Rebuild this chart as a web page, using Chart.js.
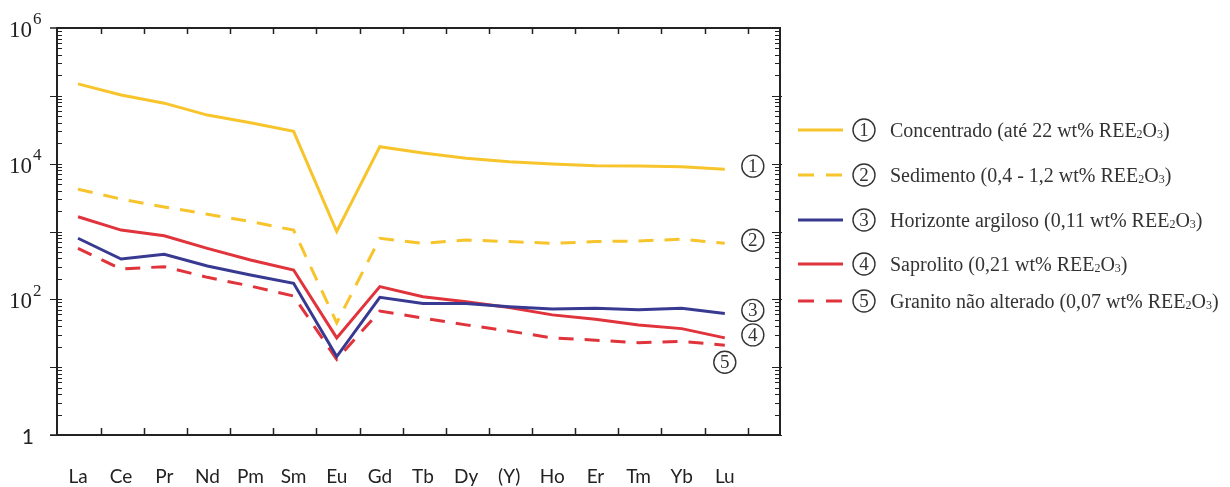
<!DOCTYPE html>
<html>
<head>
<meta charset="utf-8">
<script src="https://cdn.jsdelivr.net/npm/chart.js@4"></script>
<style>
  html, body { margin: 0; padding: 0; background: #fff; }
</style>
</head>
<body>
<canvas id="grafico" width="1230" height="487"></canvas>
<script>
// elementos (eixo x) e valores normalizados (escala log)
const elementos = ['La', 'Ce', 'Pr', 'Nd', 'Pm', 'Sm', 'Eu', 'Gd', 'Tb', 'Dy', '(Y)', 'Ho', 'Er', 'Tm', 'Yb', 'Lu'];
const concentrado = [150000, 103000, 78000, 52000, 40000, 30000, 1000, 17800, 14400, 12000, 10700, 9900, 9350, 9200, 9000, 8300];
const sedimento = [4200, 3000, 2300, 1800, 1400, 1050, 45, 795, 670, 750, 710, 670, 710, 725, 770, 670];
const horizonte = [795, 393, 461, 310, 228, 172, 14.3, 107, 87, 87, 78, 72, 74, 70, 74, 62];
const saprolito = [1650, 1050, 867, 565, 380, 271, 27, 154, 109, 92, 76, 59, 51, 42, 37, 27];
const granito = [565, 280, 303, 211, 157, 112, 13, 67, 53, 42, 34, 27, 25, 23, 24, 21];
const legendas = [
    'Concentrado (até 22 wt% REE2O3)',
    'Sedimento (0,4 - 1,2 wt% REE2O3)',
    'Horizonte argiloso (0,11 wt% REE2O3)',
    'Saprolito (0,21 wt% REE2O3)',
    'Granito não alterado (0,07 wt% REE2O3)'
];
const yExpoentes = [0, 2, 4, 6];

const AMARELO = '#f7c42b';
const AZUL = '#383a92';
const VERMELHO = '#e0333b';
const TRACO = [15, 11];

const serie = (valores) => valores.map((v, i) => ({ x: i, y: v }));

const linha = (valores, cor, tracejado) => ({
    data: serie(valores),
    borderColor: cor,
    backgroundColor: cor,
    borderWidth: 3,
    borderDash: tracejado ? TRACO : [],
    pointRadius: 0,
    tension: 0,
    fill: false
});

const circulo = (ctx, n, cx, cy, r) => {
    ctx.save();
    ctx.setLineDash([]);
    ctx.strokeStyle = '#333';
    ctx.lineWidth = 1.4;
    ctx.beginPath();
    ctx.arc(cx, cy, r, 0, Math.PI * 2);
    ctx.stroke();
    ctx.fillStyle = '#333';
    ctx.font = '19px "Liberation Serif"';
    ctx.textAlign = 'center';
    ctx.textBaseline = 'middle';
    ctx.fillText(String(n), cx, cy + 1);
    ctx.restore();
};

const moldura = {
    id: 'moldura',
    afterDraw(chart) {
        const ctx = chart.ctx;
        const a = chart.chartArea;
        const xs = chart.scales.x;
        const ys = chart.scales.y;
        ctx.save();
        ctx.strokeStyle = '#222';
        ctx.lineWidth = 2;
        ctx.strokeRect(a.left, a.top, a.right - a.left, a.bottom - a.top);

        // marcas eixo x (topo e base, para dentro)
        ctx.lineWidth = 1.5;
        ctx.beginPath();
        for (let i = 0; i < elementos.length; i++) {
            const px = Math.round(xs.getPixelForValue(i + 0.53)) + 0.5;
            ctx.moveTo(px, a.top); ctx.lineTo(px, a.top + 6);
            ctx.moveTo(px, a.bottom); ctx.lineTo(px, a.bottom - 7);
        }
        ctx.moveTo(a.left - 7, a.top); ctx.lineTo(a.left, a.top);
        ctx.moveTo(a.left - 7, a.bottom); ctx.lineTo(a.left, a.bottom);
        ctx.stroke();

        // marcas eixo y logaritmico
        ctx.lineWidth = 1.2;
        ctx.beginPath();
        for (let e = 0; e < 6; e++) {
            for (let m = 1; m < 10; m++) {
                const py = Math.round(ys.getPixelForValue(m * Math.pow(10, e))) + 0.5;
                if (m === 1) {
                    ctx.moveTo(a.left - 7, py); ctx.lineTo(a.left + 5, py);
                    ctx.moveTo(a.right - 8, py); ctx.lineTo(a.right + 2, py);
                } else {
                    ctx.moveTo(a.left, py); ctx.lineTo(a.left + 5, py);
                    ctx.moveTo(a.right, py); ctx.lineTo(a.right - 5, py);
                }
            }
        }
        ctx.stroke();

        // rotulos eixo y
        ctx.fillStyle = '#222';
        yExpoentes.forEach((e) => {
            const py = ys.getPixelForValue(Math.pow(10, e));
            if (e === 0) {
                ctx.font = '21px Lato';
                ctx.textAlign = 'right';
                ctx.textBaseline = 'middle';
                ctx.fillText('1', 34, py + 2);
            } else {
                ctx.font = '23px "Liberation Serif"';
                ctx.textAlign = 'right';
                ctx.textBaseline = 'middle';
                ctx.fillText('10', 32, py + 3);
                ctx.font = '17px "Liberation Serif"';
                ctx.textAlign = 'left';
                ctx.fillText(String(e), 33, py - 8);
            }
        });

        // numeros nas curvas
        const ultimos = chart.data.datasets.map((d) => d.data[d.data.length - 1].y);
        ultimos.forEach((v, k) => {
            const last = elementos.length - 1;
            if (k === 4) {
                circulo(ctx, k + 1, xs.getPixelForValue(last), ys.getPixelForValue(v) + 17, 11);
            } else {
                circulo(ctx, k + 1, xs.getPixelForValue(last + 0.65), ys.getPixelForValue(v) - 3, 11);
            }
        });

        // legenda
        const yLeg = [130, 175, 220, 264, 301];
        chart.data.datasets.forEach((d, k) => {
            const y = yLeg[k];
            ctx.save();
            ctx.strokeStyle = d.borderColor;
            ctx.lineWidth = 3;
            ctx.setLineDash(d.borderDash.length ? [16, 12] : []);
            ctx.beginPath();
            ctx.moveTo(798, y); ctx.lineTo(843, y);
            ctx.stroke();
            ctx.restore();
            circulo(ctx, k + 1, 864, y, 11);

            const partes = legendas[k].split('REE2O3');
            let x = 890;
            ctx.fillStyle = '#333';
            ctx.textAlign = 'left';
            ctx.textBaseline = 'alphabetic';
            const base = y + 7;
            const trechos = [
                [partes[0] + 'REE', 20, 0], ['2', 12, 1], ['O', 20, 0], ['3', 12, 1], [partes[1], 20, 0]
            ];
            trechos.forEach(([t, tam, desc]) => {
                ctx.font = tam + 'px "Liberation Serif"';
                ctx.fillText(t, x, base + desc);
                x += ctx.measureText(t).width;
            });
        });
        ctx.restore();
    }
};

const canvas = document.getElementById('grafico');
const ctx = canvas.getContext('2d');

const config = {
    type: 'line',
    data: {
        datasets: [
            linha(concentrado, AMARELO, false),
            linha(sedimento, AMARELO, true),
            linha(horizonte, AZUL, false),
            linha(saprolito, VERMELHO, false),
            linha(granito, VERMELHO, true)
        ]
    },
    options: {
        responsive: false,
        animation: false,
        devicePixelRatio: 1,
        layout: { padding: { left: 0, top: 28, right: 450, bottom: 0 } },
        plugins: {
            legend: { display: false },
            tooltip: { enabled: false }
        },
        scales: {
            x: {
                type: 'linear',
                min: -0.487,
                max: 16.28,
                afterBuildTicks: (s) => { s.ticks = elementos.map((e, i) => ({ value: i })); },
                afterFit: (s) => { s.height = 52; },
                ticks: {
                    callback: (v) => elementos[v],
                    autoSkip: false,
                    maxRotation: 0,
                    padding: 30,
                    color: '#222',
                    font: { family: 'Lato', size: 19 }
                },
                grid: { display: false, drawTicks: false },
                border: { display: false }
            },
            y: {
                type: 'logarithmic',
                min: 1,
                max: 1000000,
                afterFit: (s) => { s.width = 57; },
                ticks: { display: false },
                grid: { display: false, drawTicks: false },
                border: { display: false }
            }
        }
    },
    plugins: [moldura]
};

const chart = new Chart(ctx, config);
</script>
</body>
</html>
